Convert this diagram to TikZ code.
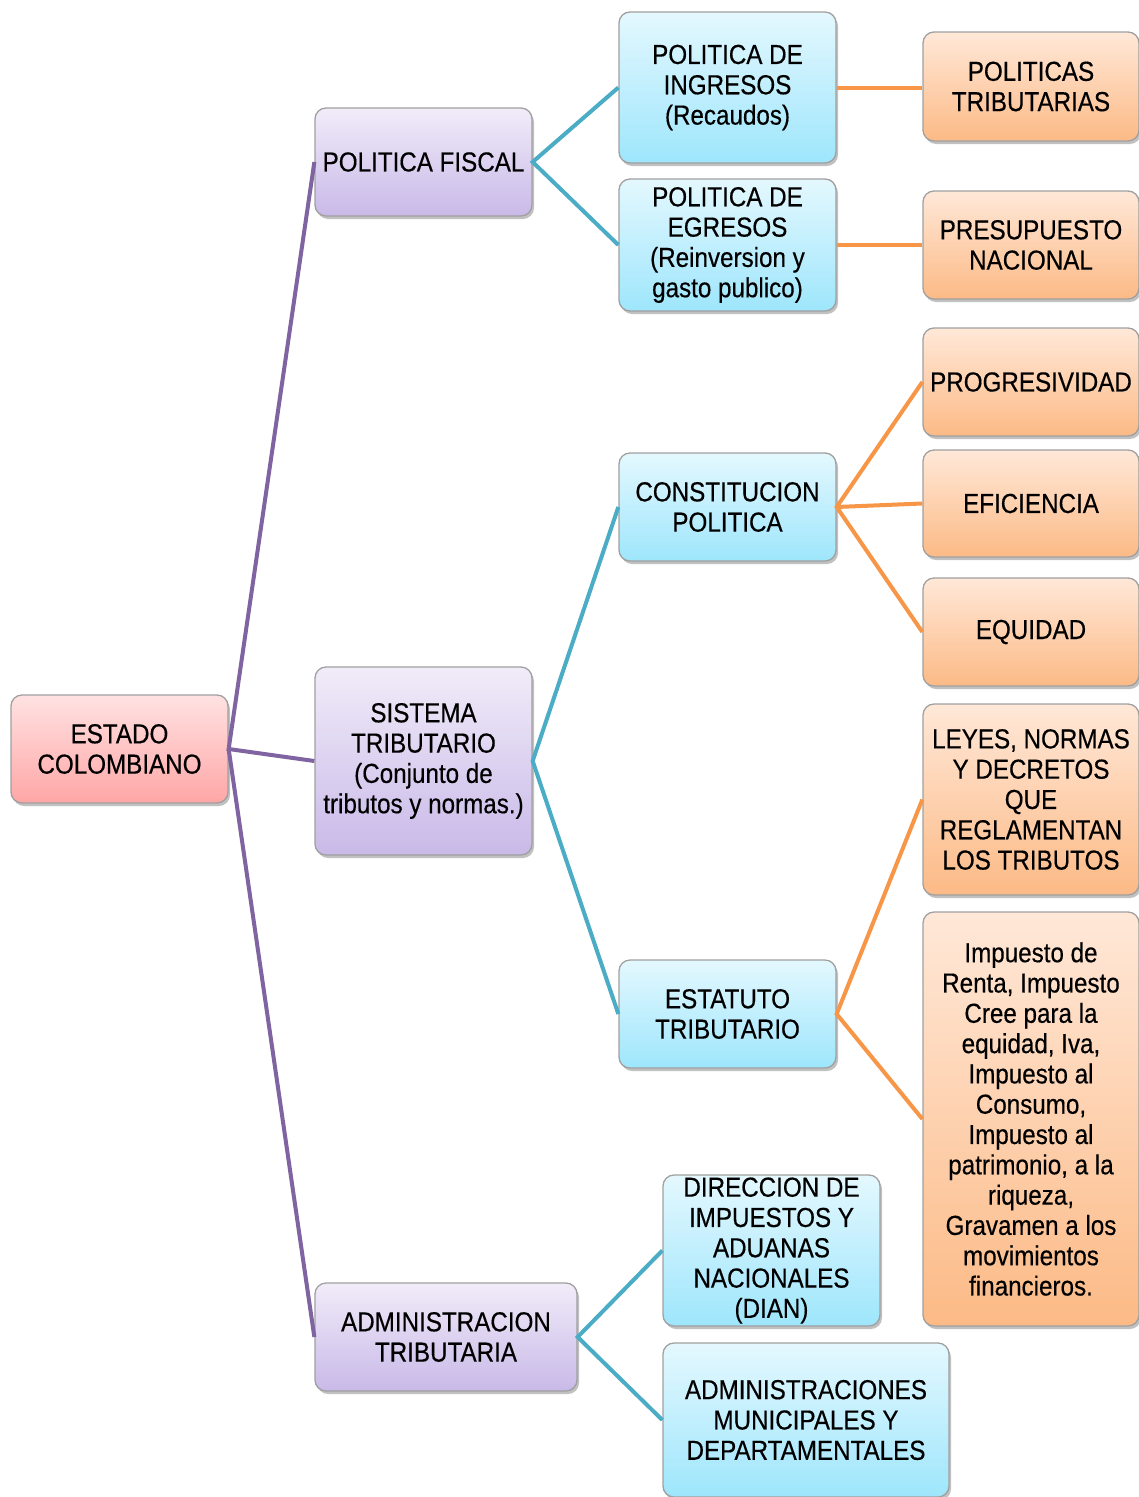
\documentclass[tikz,border=0pt]{standalone}
\usepackage{fontspec}
\setmainfont{Liberation Sans}[FakeStretch=0.88,FakeBold=0.4]
\usetikzlibrary{shadows}
\definecolor{purpline}{HTML}{8064A2}
\definecolor{cyanline}{HTML}{4BACC6}
\definecolor{orline}{HTML}{F79646}
\definecolor{pinkT}{HTML}{FFE2E2}
\definecolor{pinkB}{HTML}{FFA6A6}
\definecolor{purpT}{HTML}{F1ECF9}
\definecolor{purpB}{HTML}{C9B9E8}
\definecolor{cyanT}{HTML}{E4F8FE}
\definecolor{cyanB}{HTML}{9EE6FC}
\definecolor{orT}{HTML}{FFE8D8}
\definecolor{orB}{HTML}{FCBA86}
\definecolor{boxline}{HTML}{A0A0A0}
\begin{document}
\begin{tikzpicture}[x=1pt,y=-1pt,
  box/.style={draw=boxline, line width=1.3pt, rounded corners=11pt, align=center,
    inner sep=0pt, minimum width=217pt, minimum height=108pt,
    font=\fontsize{27.5}{30.3}\selectfont,
    drop shadow={shadow xshift=2pt, shadow yshift=-3pt, opacity=0.4, fill=black!60}},
  pinkbox/.style={box, top color=pinkT, bottom color=pinkB},
  purpbox/.style={box, top color=purpT, bottom color=purpB},
  cyanbox/.style={box, top color=cyanT, bottom color=cyanB},
  orbox/.style={box, top color=orT, bottom color=orB},
  purpcon/.style={draw=purpline, line width=4pt},
  cyancon/.style={draw=cyanline, line width=4pt},
  orcon/.style={draw=orline, line width=4pt}]
\useasboundingbox (0,0) rectangle (1139,1497);
\fill[white] (0,0) rectangle (1139,1497);

\node[pinkbox] (estado) at (119.5,749) {ESTADO\\COLOMBIANO};

\node[purpbox] (fiscal) at (423.5,162) {POLITICA FISCAL};
\node[purpbox, minimum height=188pt] (sistema) at (423.5,761) {SISTEMA\\TRIBUTARIO\\(Conjunto de\\tributos y normas.)};
\node[purpbox, minimum width=262pt] (admin) at (446,1337) {ADMINISTRACION\\TRIBUTARIA};

\node[cyanbox, minimum height=151pt] (ingresos) at (727.5,87.5) {POLITICA DE\\INGRESOS\\(Recaudos)};
\node[cyanbox, minimum height=132pt] (egresos) at (727.5,245) {POLITICA DE\\EGRESOS\\(Reinversion y\\gasto publico)};
\node[cyanbox] (constitucion) at (727.5,507) {CONSTITUCION\\POLITICA};
\node[cyanbox] (estatuto) at (727.5,1014) {ESTATUTO\\TRIBUTARIO};
\node[cyanbox, minimum height=151pt] (dian) at (771.5,1250.5) {DIRECCION DE\\IMPUESTOS Y\\ADUANAS\\NACIONALES\\(DIAN)};
\node[cyanbox, minimum width=286pt, minimum height=154pt] (municipales) at (806,1420) {ADMINISTRACIONES\\MUNICIPALES Y\\DEPARTAMENTALES};

\node[orbox, minimum width=216pt, minimum height=109pt] (politicas) at (1031,86.5) {POLITICAS\\TRIBUTARIAS};
\node[orbox, minimum width=216pt] (presupuesto) at (1031,245) {PRESUPUESTO\\NACIONAL};
\node[orbox, minimum width=216pt] (progresividad) at (1031,382) {PROGRESIVIDAD};
\node[orbox, minimum width=216pt, minimum height=107pt] (eficiencia) at (1031,503.5) {EFICIENCIA};
\node[orbox, minimum width=216pt] (equidad) at (1031,632) {EQUIDAD};
\node[orbox, minimum width=216pt, minimum height=191pt] (leyes) at (1031,799.5) {LEYES, NORMAS\\Y DECRETOS\\QUE\\REGLAMENTAN\\LOS TRIBUTOS};
\node[orbox, minimum width=216pt, minimum height=414pt] (impuesto) at (1031,1119) {Impuesto de\\Renta, Impuesto\\Cree para la\\equidad, Iva,\\Impuesto al\\Consumo,\\Impuesto al\\patrimonio, a la\\riqueza,\\Gravamen a los\\movimientos\\financieros.};

\draw[purpcon] (fiscal.west) -- (estado.east) -- (sistema.west);
\draw[purpcon] (estado.east) -- (admin.west);

\draw[cyancon] (ingresos.west) -- (fiscal.east) -- (egresos.west);
\draw[cyancon] (constitucion.west) -- (sistema.east) -- (estatuto.west);
\draw[cyancon] (dian.west) -- (admin.east) -- (municipales.west);

\draw[orcon] (ingresos.east) -- (politicas.west |- ingresos.east);
\draw[orcon] (egresos.east) -- (presupuesto.west |- egresos.east);
\draw[orcon] (progresividad.west) -- (constitucion.east) -- (equidad.west);
\draw[orcon] (constitucion.east) -- (eficiencia.west);
\draw[orcon] (leyes.west) -- (estatuto.east) -- (impuesto.west);
\end{tikzpicture}
\end{document}
